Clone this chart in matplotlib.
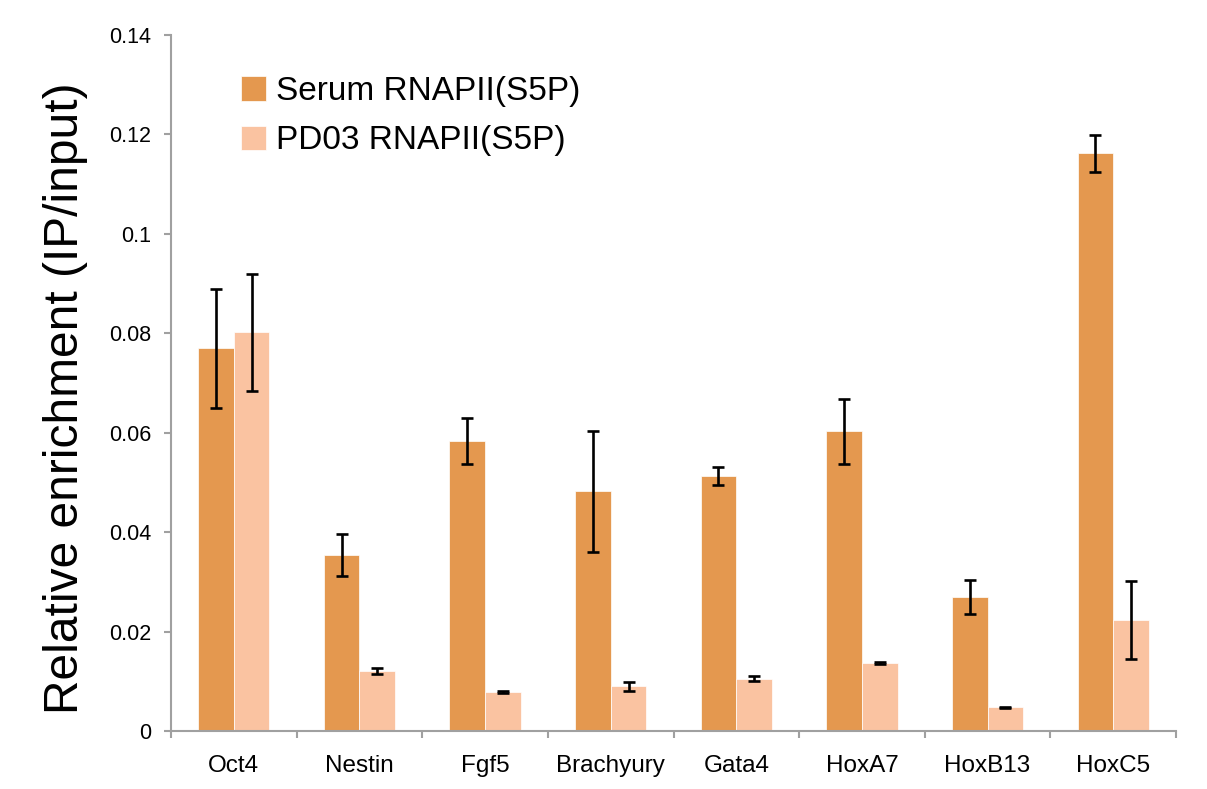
import numpy as np
import matplotlib.pyplot as plt

plt.rcParams['font.family'] = ['Liberation Sans', 'DejaVu Sans']

# data
genes = ['Oct4', 'Nestin', 'Fgf5', 'Brachyury', 'Gata4', 'HoxA7', 'HoxB13', 'HoxC5']
serum = [0.0770, 0.0354, 0.0583, 0.0482, 0.0513, 0.0603, 0.0270, 0.1162]
serum_err = [0.0120, 0.0043, 0.0046, 0.0121, 0.0018, 0.0065, 0.0034, 0.0037]
pd03 = [0.0802, 0.0120, 0.0078, 0.0090, 0.0105, 0.0136, 0.0048, 0.0223]
pd03_err = [0.0118, 0.0006, 0.0002, 0.0009, 0.0005, 0.0002, 0.0001, 0.0078]
yticks = [0, 0.02, 0.04, 0.06, 0.08, 0.1, 0.12, 0.14]
ytick_labels = ['0', '0.02', '0.04', '0.06', '0.08', '0.1', '0.12', '0.14']

c_serum = '#E4984F'
c_pd03 = '#FAC3A1'
grey = '#A0A0A0'

fig = plt.figure(figsize=(12.07, 7.89), dpi=100)
ax = fig.add_axes([171 / 1207, 1 - 731 / 789, 1005 / 1207, 696 / 789])

x = np.arange(len(genes))
w = 0.284
err_kw = dict(ecolor='black', elinewidth=1.9, capsize=4.5, capthick=1.9)
ax.bar(x - w / 2, serum, w, color=c_serum, yerr=serum_err, error_kw=err_kw,
       label='Serum RNAPII(S5P)', edgecolor='white', linewidth=0.5)
ax.bar(x + w / 2, pd03, w, color=c_pd03, yerr=pd03_err, error_kw=err_kw,
       label='PD03 RNAPII(S5P)', edgecolor='white', linewidth=0.5)

ax.set_xlim(-0.5, len(genes) - 0.5)
ax.set_ylim(0, 0.14)
ax.set_yticks(yticks)
ax.set_yticklabels(ytick_labels, fontsize=15.5)

# category labels in the middle, tick marks on the boundaries
ax.set_xticks(x)
ax.set_xticklabels(genes, fontsize=17.5)
ax.tick_params(axis='x', length=0, pad=17)
ax.set_xticks(np.arange(len(genes) + 1) - 0.5, minor=True)
ax.tick_params(axis='x', which='minor', length=5, width=1.5, color=grey)
ax.tick_params(axis='y', length=5, width=1.5, color=grey, pad=9)

for s in ['top', 'right']:
    ax.spines[s].set_visible(False)
for s in ['left', 'bottom']:
    ax.spines[s].set_color(grey)
    ax.spines[s].set_linewidth(1.5)

ax.set_ylabel('Relative enrichment (IP/input)', fontsize=34.5)
ax.yaxis.set_label_coords(-0.083, 0.478)

ax.legend(loc='upper left', bbox_to_anchor=(0.04, 0.984), frameon=False,
          fontsize=24, handlelength=0.75, handleheight=0.75, handletextpad=0.3,
          labelspacing=0.55)

fig.savefig('out.png', dpi=100)
